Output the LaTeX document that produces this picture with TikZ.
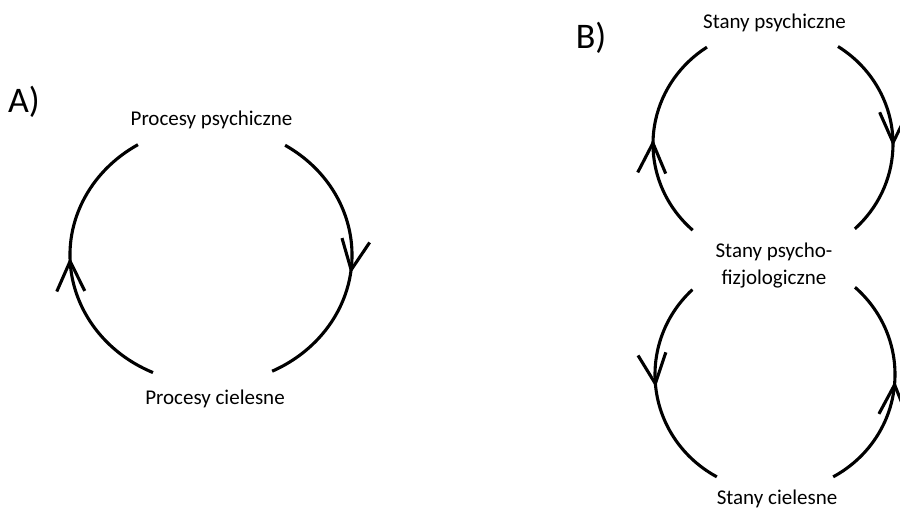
\documentclass[tikz,border=0pt]{standalone}
\usepackage{fontspec}
\setmainfont{Carlito}
\usetikzlibrary{arrows.meta,decorations.markings,calc}
\begin{document}
\begin{tikzpicture}[x=1pt,y=1pt,
	cycline/.style={line width=3.1pt},
	midarrow/.style={postaction={decorate},decoration={markings,
		mark=at position #1 with {\arrow{Straight Barb[length=30pt,width=28pt]}}}},
	lbl/.style={font=\fontsize{21}{27}\selectfont,inner sep=0pt,anchor=base},
	big/.style={font=\fontsize{36}{40}\selectfont,inner sep=0pt,anchor=base}]
	\useasboundingbox (0,0) rectangle (900,509);
	
	% A
	\coordinate (cA) at (211,254);
	\node[big] (tA) at (24,396) {A)};
	\node[lbl] (psyA) at (211.5,383) {Procesy psychiczne};
	\node[lbl] (cieA) at (215,104) {Procesy cielesne};
	\draw[cycline,midarrow=0.52] ($(cA)+(245.7:141pt and 129pt)$) arc[start angle=245.7,end angle=121.2,x radius=141pt,y radius=129pt];
	\draw[cycline,midarrow=0.54] ($(cA)+(58.3:141pt and 129pt)$) arc[start angle=58.3,end angle=-64.3,x radius=141pt,y radius=129pt];
	
	% B
	\coordinate (cB1) at (773,365);
	\coordinate (cB2) at (775,134.5);
	\node[big] (tB) at (591,460) {B)};
	\node[lbl] (psyB) at (774.5,480) {Stany psychiczne};
	\node[lbl,anchor=center,align=center] (fizB) at (774,243) {Stany psycho-\\fizjologiczne};
	\node[lbl] (cieB) at (777,5) {Stany cielesne};
	\draw[cycline,midarrow=0.48] ($(cB1)+(228:120pt and 116pt)$) arc[start angle=228,end angle=123.4,x radius=120pt,y radius=116pt];
	\draw[cycline,midarrow=0.56] ($(cB1)+(57.2:120pt and 116pt)$) arc[start angle=57.2,end angle=-47,x radius=120pt,y radius=116pt];
	\draw[cycline,midarrow=0.49] ($(cB2)+(133.5:120pt and 117pt)$) arc[start angle=133.5,end angle=241,x radius=120pt,y radius=117pt];
	\draw[cycline,midarrow=0.53] ($(cB2)+(-61:120pt and 117pt)$) arc[start angle=-61,end angle=48.2,x radius=120pt,y radius=117pt];
\end{tikzpicture}
\end{document}
